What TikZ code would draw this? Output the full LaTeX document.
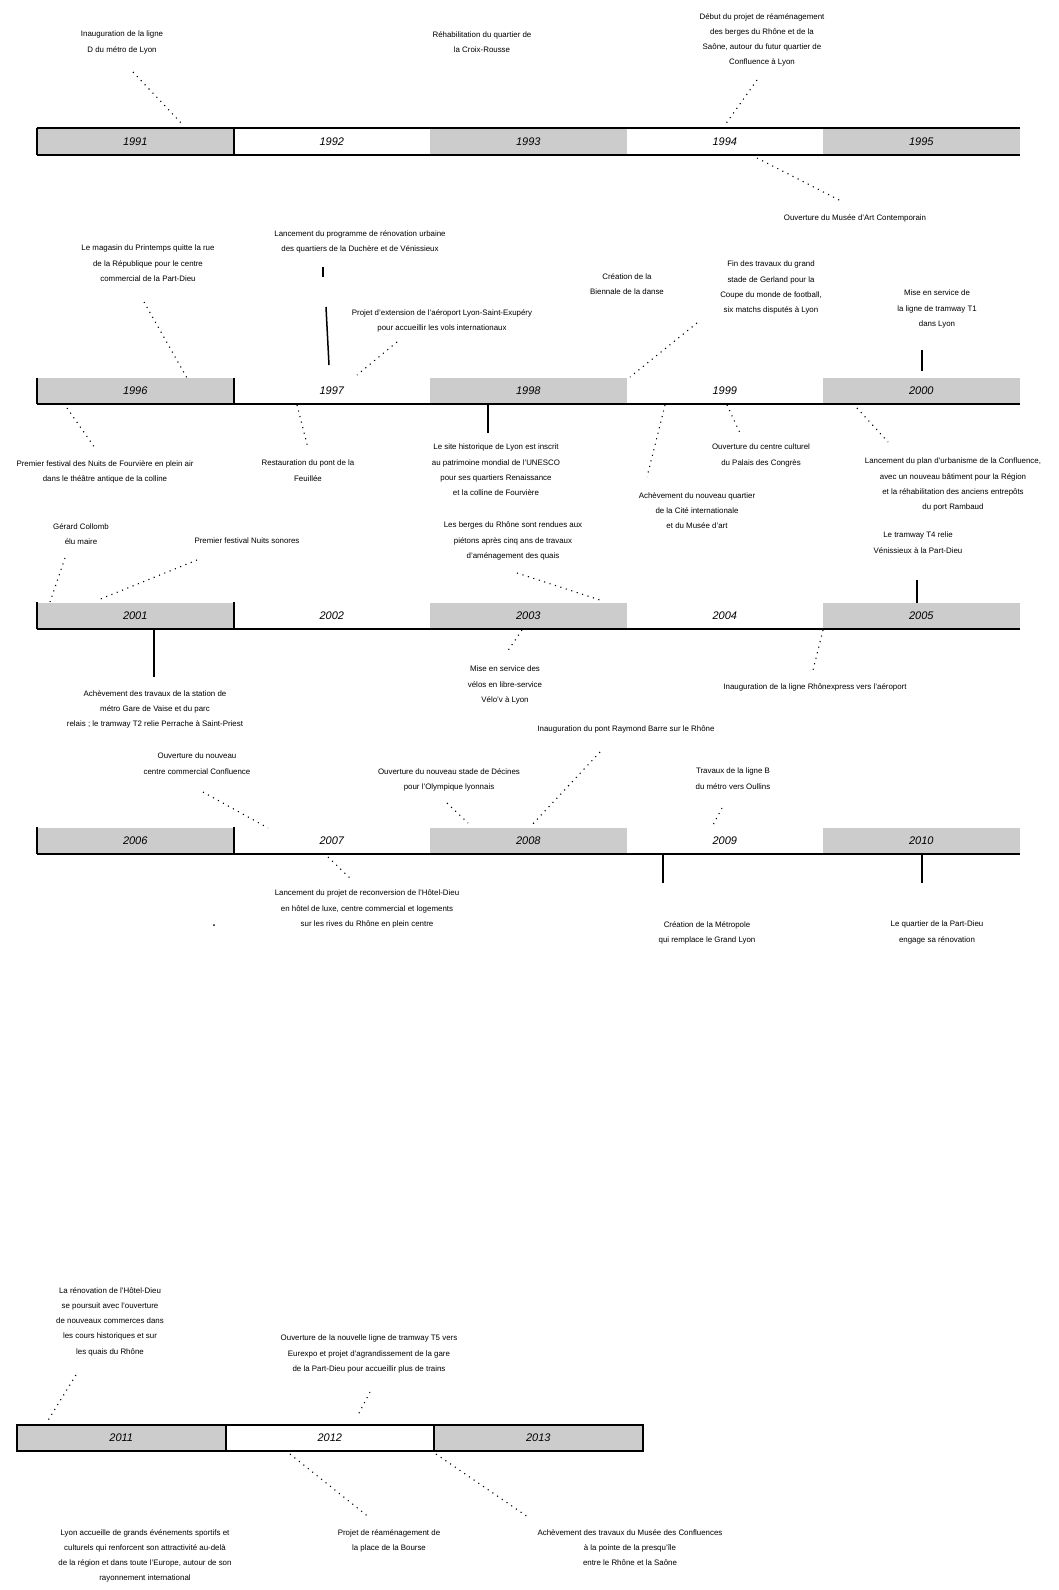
\documentclass[tikz,border=0pt]{standalone}
\usepackage{fontspec}
\setmainfont{Liberation Sans}
\definecolor{barg}{HTML}{CCCCCC}
\begin{document}
\begin{tikzpicture}[x=1pt,y=-1pt,
  seg/.style={rectangle,draw=none,inner sep=0,minimum width=196.5pt,minimum height=26pt,font=\fontsize{11}{12}\selectfont\itshape},
  segl/.style={seg,minimum width=208.5pt},
  gr/.style={fill=barg},
  wh/.style={fill=white},
  lab/.style={anchor=north,align=center,inner sep=0,font=\fontsize{7.9}{15.3}\selectfont},
  dl/.style={line width=1.1pt,dash pattern=on 1.1pt off 4.6pt},
  sl/.style={line width=1.5pt},
  barline/.style={line width=2pt}]
\useasboundingbox[fill=white] (0,0) rectangle (1058,1590);

% ---------------- bars ----------------
\node[seg,gr] (y91) at (135.25,141.5) {1991};
\node[seg,wh] (y92) at (331.75,141.5) {1992};
\node[seg,gr] (y93) at (528.25,141.5) {1993};
\node[seg,wh] (y94) at (724.75,141.5) {1994};
\node[seg,gr] (y95) at (921.25,141.5) {1995};
\draw[barline] (y91.north west) -- (y95.north east);
\draw[barline] (y91.south west) -- (y95.south east);
\draw[barline] (y91.north west) -- (y91.south west);
\draw[barline] (y91.north east) -- (y91.south east);

\node[seg,gr] (y96) at (135.25,391) {1996};
\node[seg,wh] (y97) at (331.75,391) {1997};
\node[seg,gr] (y98) at (528.25,391) {1998};
\node[seg,wh] (y99) at (724.75,391) {1999};
\node[seg,gr] (y00) at (921.25,391) {2000};
\draw[barline] (y96.south west) -- (y00.south east);
\draw[barline] (y96.north west) -- (y96.south west);
\draw[barline] (y96.north east) -- (y96.south east);

\node[seg,gr] (y01) at (135.25,615.5) {2001};
\node[seg,wh] (y02) at (331.75,615.5) {2002};
\node[seg,gr] (y03) at (528.25,615.5) {2003};
\node[seg,wh] (y04) at (724.75,615.5) {2004};
\node[seg,gr] (y05) at (921.25,615.5) {2005};
\draw[barline] (y01.south west) -- (y05.south east);
\draw[barline] (y01.north west) -- (y01.south west);
\draw[barline] (y01.north east) -- (y01.south east);

\node[seg,gr] (y06) at (135.25,840.5) {2006};
\node[seg,wh] (y07) at (331.75,840.5) {2007};
\node[seg,gr] (y08) at (528.25,840.5) {2008};
\node[seg,wh] (y09) at (724.75,840.5) {2009};
\node[seg,gr] (y10) at (921.25,840.5) {2010};
\draw[barline] (y06.south west) -- (y10.south east);
\draw[barline] (y06.north west) -- (y06.south west);
\draw[barline] (y06.north east) -- (y06.south east);

\node[segl,gr] (y11) at (121.25,1438) {2011};
\node[segl,wh] (y12) at (329.75,1438) {2012};
\node[segl,gr] (y13) at (538.25,1438) {2013};
\draw[barline] (y11.north west) rectangle (y13.south east);
\draw[barline] (y11.north east) -- (y11.south east);
\draw[barline] (y12.north east) -- (y12.south east);

% ---------------- row 1 labels ----------------
\node[lab] (a1) at (122,31) {Inauguration de la ligne\\D du métro de Lyon};
\node[lab] (a2) at (482,31) {Réhabilitation du quartier de\\la Croix-Rousse};
\node[lab] (a3) at (762,13) {Début du projet de réaménagement\\des berges du Rhône et de la\\Saône, autour du futur quartier de\\Confluence à Lyon};
\node[lab] (a4) at (855,214) {Ouverture du Musée d'Art Contemporain};
\coordinate (a1s) at (133,72);  \coordinate (a1e) at (182,124);
\coordinate (a3s) at (757,80);  \coordinate (a3e) at (725,125);
\coordinate (a4s) at (757,158); \coordinate (a4e) at (843,202);
\draw[dl] (a1s) -- (a1e);
\draw[dl] (a3s) -- (a3e);
\draw[dl] (a4s) -- (a4e);

% ---------------- row 2 labels ----------------
\node[lab] (b1) at (148,245) {Le magasin du Printemps quitte la rue\\de la République pour le centre\\commercial de la Part-Dieu};
\node[lab] (b2) at (360,230) {Lancement du programme de rénovation urbaine\\des quartiers de la Duchère et de Vénissieux};
\node[lab] (b3) at (442,309) {Projet d'extension de l'aéroport Lyon-Saint-Exupéry\\pour accueillir les vols internationaux};
\node[lab] (b4) at (105,460) {Premier festival des Nuits de Fourvière en plein air\\dans le théâtre antique de la colline};
\node[lab] (b5) at (308,460) {Restauration du pont de la\\Feuillée};
\node[lab] (b6) at (496,444) {Le site historique de Lyon est inscrit\\au patrimoine mondial de l'UNESCO\\pour ses quartiers Renaissance\\et la colline de Fourvière};
\node[lab] (b7) at (627,273) {Création de la\\Biennale de la danse};
\node[lab] (b8) at (771,261) {Fin des travaux du grand\\stade de Gerland pour la\\Coupe du monde de football,\\six matchs disputés à Lyon};
\node[lab] (b9) at (937,290) {Mise en service de\\la ligne de tramway T1\\dans Lyon};
\node[lab] (b10) at (697,492) {Achèvement du nouveau quartier\\de la Cité internationale\\et du Musée d'art};
\node[lab] (b11) at (761,444) {Ouverture du centre culturel\\du Palais des Congrès};
\node[lab] (b12) at (953,458) {Lancement du plan d'urbanisme de la Confluence,\\avec un nouveau bâtiment pour la Région\\et la réhabilitation des anciens entrepôts\\du port Rambaud};
\coordinate (b1s) at (144,302);  \coordinate (b1e) at (187,378);
\coordinate (b2t) at (323,267);  \coordinate (b2u) at (323,277);
\coordinate (b2s) at (326,307);  \coordinate (b2e) at (329,365);
\coordinate (b3s) at (397,342);  \coordinate (b3e) at (357,375);
\coordinate (b4s) at (67,408);   \coordinate (b4e) at (95,448);
\coordinate (b5s) at (297,405);  \coordinate (b5e) at (308,448);
\coordinate (b6s) at (488,404);  \coordinate (b6e) at (488,433);
\coordinate (b8s) at (697,323);  \coordinate (b8e) at (630,377);
\coordinate (b9s) at (922,350);  \coordinate (b9e) at (922,371);
\coordinate (b10s) at (665,405); \coordinate (b10e) at (647,477);
\coordinate (b11s) at (727,405); \coordinate (b11e) at (740,433);
\coordinate (b12s) at (857,408); \coordinate (b12e) at (888,442);
\draw[dl] (b1s) -- (b1e);
\draw[sl] (b2t) -- (b2u);
\draw[sl] (b2s) -- (b2e);
\draw[dl] (b3s) -- (b3e);
\draw[dl] (b4s) -- (b4e);
\draw[dl] (b5s) -- (b5e);
\draw[sl] (b6s) -- (b6e);
\draw[dl] (b8s) -- (b8e);
\draw[sl] (b9s) -- (b9e);
\draw[dl] (b10s) -- (b10e);
\draw[dl] (b11s) -- (b11e);
\draw[dl] (b12s) -- (b12e);

% ---------------- row 3 labels ----------------
\node[lab] (c1) at (81,523) {Gérard Collomb\\élu maire};
\node[lab] (c2) at (247,538) {Premier festival Nuits sonores};
\node[lab] (c3) at (155,690) {Achèvement des travaux de la station de\\métro Gare de Vaise et du parc\\relais ; le tramway T2 relie Perrache à Saint-Priest};
\node[lab] (c4) at (513,522) {Les berges du Rhône sont rendues aux\\piétons après cinq ans de travaux\\d'aménagement des quais};
\node[lab] (c5) at (505,666) {Mise en service des\\vélos en libre-service\\Vélo'v à Lyon};
\node[lab] (c6) at (815,683) {Inauguration de la ligne Rhônexpress vers l'aéroport};
\node[lab] (c7) at (918,532) {Le tramway T4 relie\\Vénissieux à la Part-Dieu};
\coordinate (c1s) at (65,558);  \coordinate (c1e) at (50,602);
\coordinate (c2s) at (197,560); \coordinate (c2e) at (98,600);
\coordinate (c3s) at (154,629); \coordinate (c3e) at (154,677);
\coordinate (c4s) at (517,573); \coordinate (c4e) at (600,600);
\coordinate (c5s) at (522,630); \coordinate (c5e) at (507,652);
\coordinate (c6s) at (823,630); \coordinate (c6e) at (813,670);
\coordinate (c7s) at (917,580); \coordinate (c7e) at (917,603);
\draw[dl] (c1s) -- (c1e);
\draw[dl] (c2s) -- (c2e);
\draw[sl] (c3s) -- (c3e);
\draw[dl] (c4s) -- (c4e);
\draw[dl] (c5s) -- (c5e);
\draw[dl] (c6s) -- (c6e);
\draw[sl] (c7s) -- (c7e);

% ---------------- row 4 labels ----------------
\node[lab] (d1) at (197,753) {Ouverture du nouveau\\centre commercial Confluence};
\node[lab] (d2) at (367,890) {Lancement du projet de reconversion de l'Hôtel-Dieu\\en hôtel de luxe, centre commercial et logements\\sur les rives du Rhône en plein centre};
\node[lab] (d3) at (449,768) {Ouverture du nouveau stade de Décines\\pour l'Olympique lyonnais};
\node[lab] (d4) at (626,726) {Inauguration du pont Raymond Barre sur le Rhône};
\node[lab] (d5) at (733,768) {Travaux de la ligne B\\du métro vers Oullins};
\node[lab] (d6) at (707,921) {Création de la Métropole\\qui remplace le Grand Lyon};
\node[lab] (d7) at (937,921) {Le quartier de la Part-Dieu\\engage sa rénovation};
\node[inner sep=0,minimum size=2pt,circle,fill=black] (dot) at (214,925) {};
\coordinate (d1s) at (203,792); \coordinate (d1e) at (268,828);
\coordinate (d2s) at (328,857); \coordinate (d2e) at (352,880);
\coordinate (d3s) at (447,803); \coordinate (d3e) at (468,823);
\coordinate (d4s) at (600,752); \coordinate (d4e) at (530,827);
\coordinate (d5s) at (722,808); \coordinate (d5e) at (712,827);
\coordinate (d6s) at (663,854); \coordinate (d6e) at (663,883);
\coordinate (d7s) at (922,854); \coordinate (d7e) at (922,883);
\draw[dl] (d1s) -- (d1e);
\draw[dl] (d2s) -- (d2e);
\draw[dl] (d3s) -- (d3e);
\draw[dl] (d4s) -- (d4e);
\draw[dl] (d5s) -- (d5e);
\draw[sl] (d6s) -- (d6e);
\draw[sl] (d7s) -- (d7e);

% ---------------- row 5 labels ----------------
\node[lab] (e1) at (110,1287) {La rénovation de l'Hôtel-Dieu\\se poursuit avec l'ouverture\\de nouveaux commerces dans\\les cours historiques et sur\\les quais du Rhône};
\node[lab] (e2) at (369,1335) {Ouverture de la nouvelle ligne de tramway T5 vers\\Eurexpo et projet d'agrandissement de la gare\\de la Part-Dieu pour accueillir plus de trains};
\node[lab] (e3) at (389,1529) {Projet de réaménagement de\\la place de la Bourse};
\node[lab] (e4) at (630,1529) {Achèvement des travaux du Musée des Confluences\\à la pointe de la presqu'île\\entre le Rhône et la Saône};
\node[lab] (e5) at (145,1529) {Lyon accueille de grands événements sportifs et\\culturels qui renforcent son attractivité au-delà\\de la région et dans toute l'Europe, autour de son\\rayonnement international};
\coordinate (e1s) at (76,1375);  \coordinate (e1e) at (47,1422);
\coordinate (e2s) at (370,1392); \coordinate (e2e) at (357,1417);
\coordinate (e3s) at (290,1454); \coordinate (e3e) at (370,1518);
\coordinate (e4s) at (436,1454); \coordinate (e4e) at (528,1517);
\draw[dl] (e1s) -- (e1e);
\draw[dl] (e2s) -- (e2e);
\draw[dl] (e3s) -- (e3e);
\draw[dl] (e4s) -- (e4e);
\end{tikzpicture}
\end{document}
